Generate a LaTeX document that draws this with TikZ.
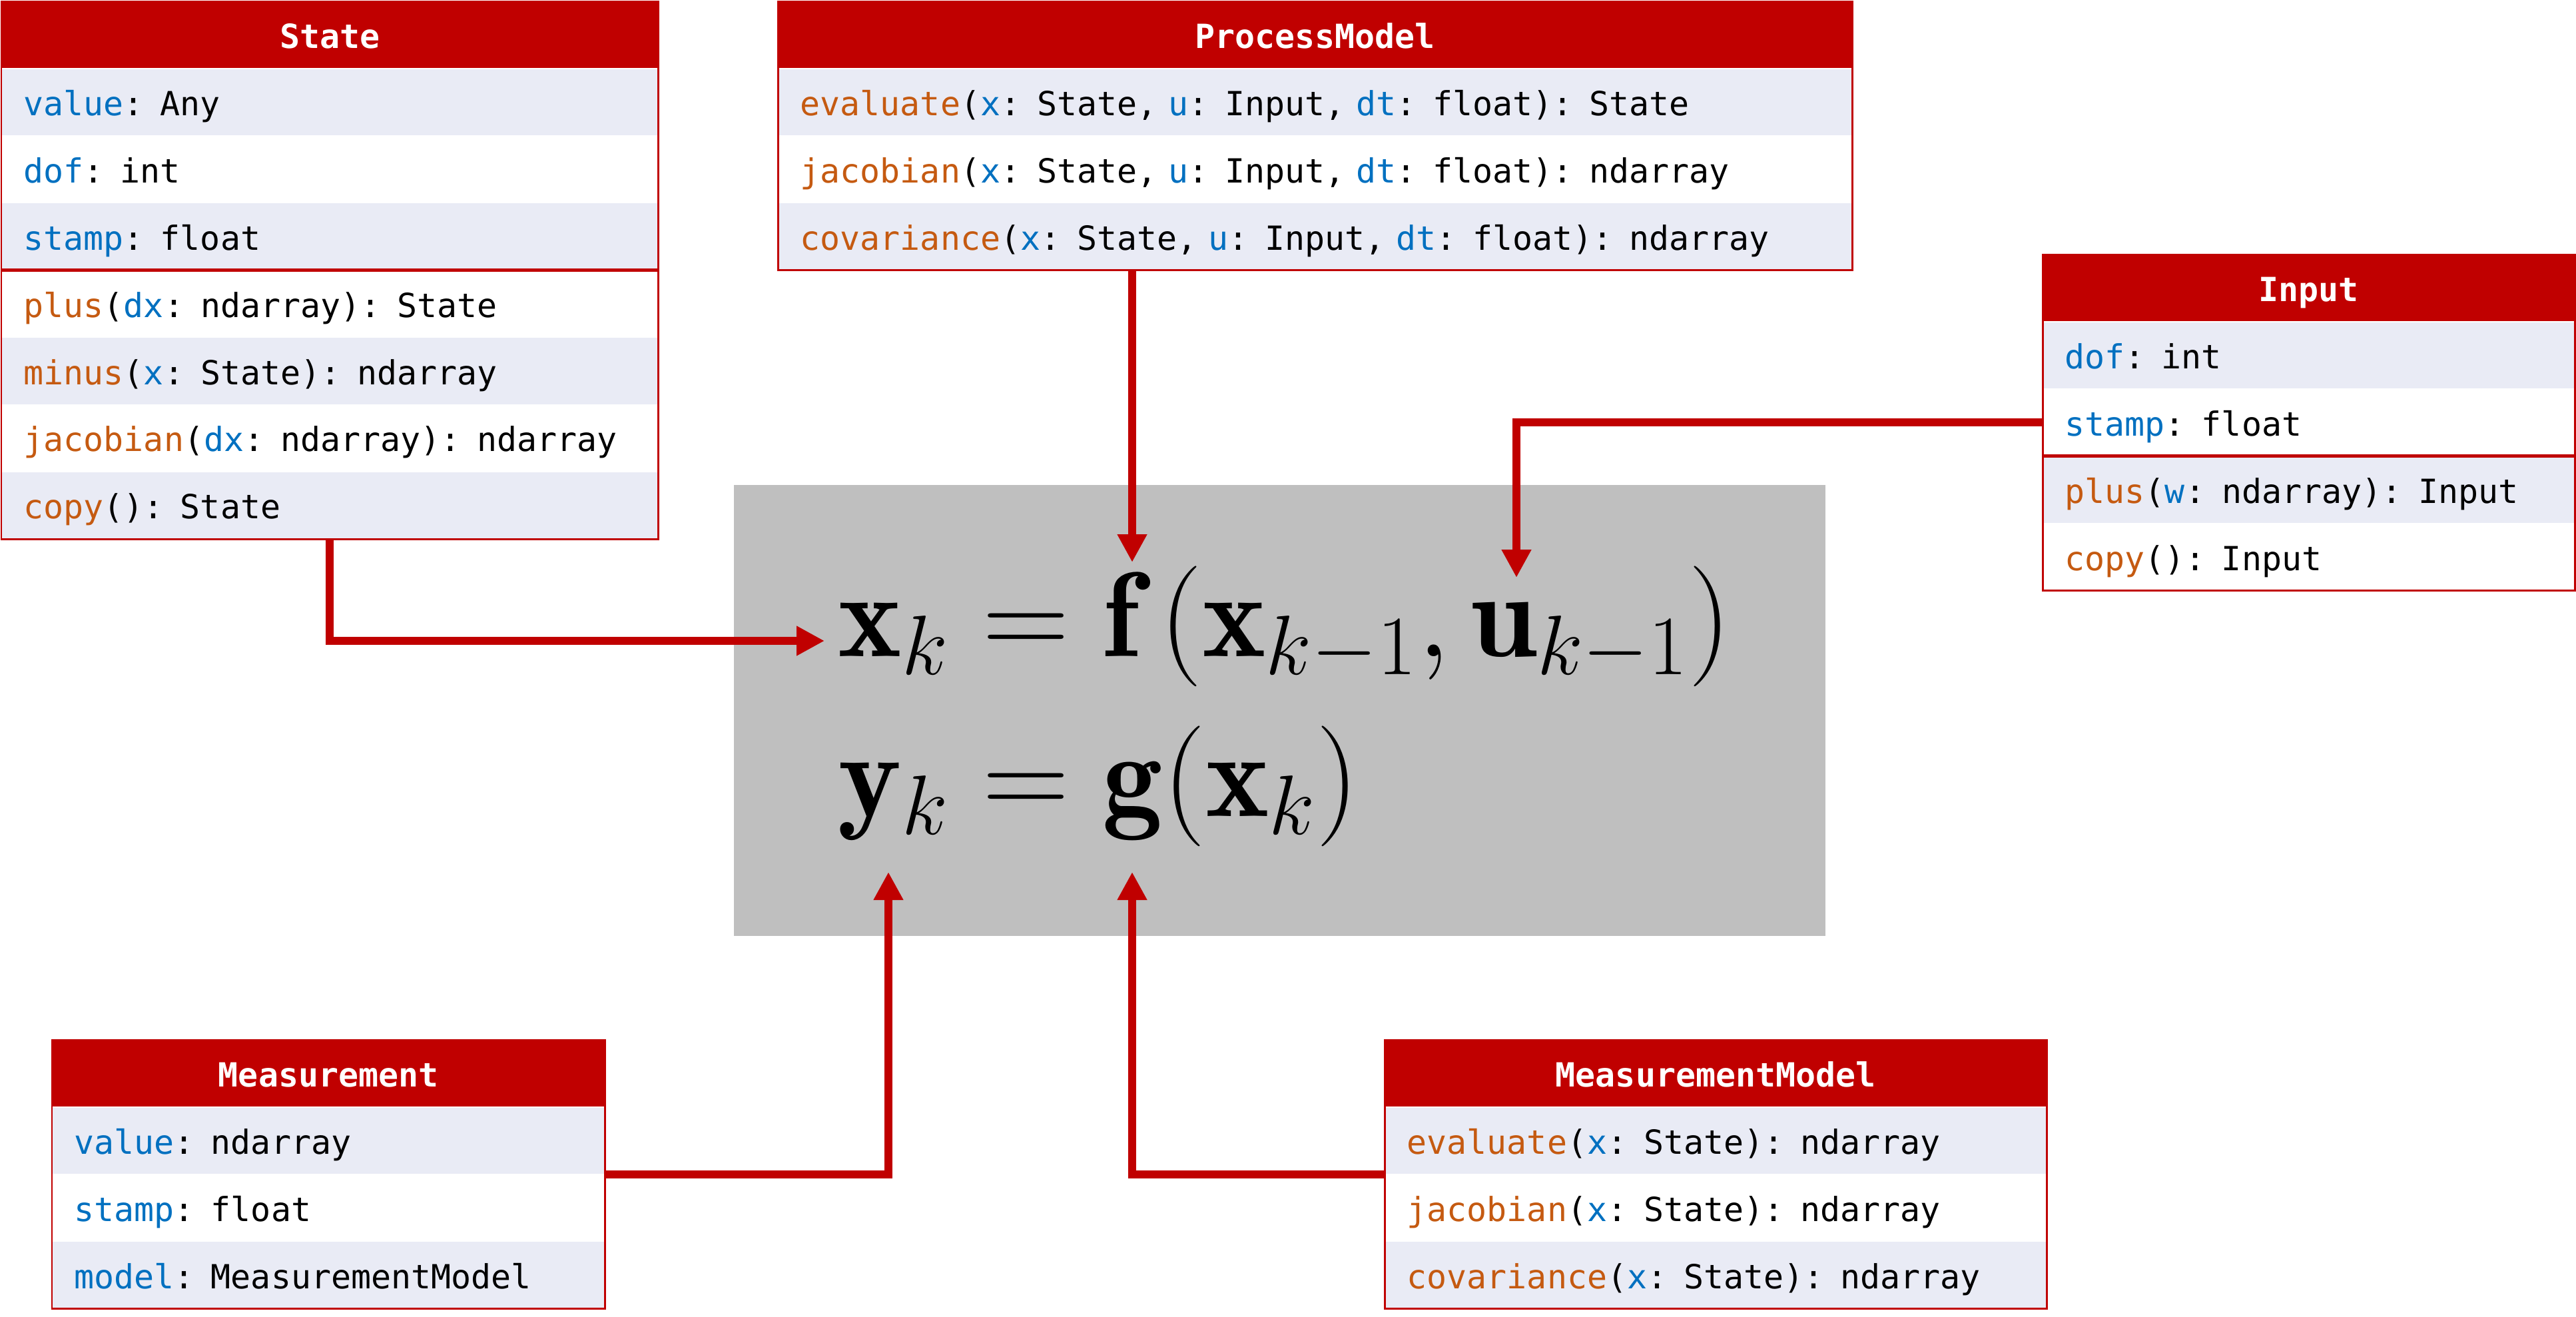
\RequirePackage{fix-cm}
\documentclass[tikz,border=0pt]{standalone}
\usepackage{fontspec}
\setmonofont{DejaVu Sans Mono}
\usetikzlibrary{positioning,arrows.meta}

\definecolor{umred}{RGB}{192,0,0}
\definecolor{rowgray}{RGB}{233,235,245}
\definecolor{fieldblue}{RGB}{0,112,192}
\definecolor{methorange}{RGB}{197,90,17}
\definecolor{eqgray}{RGB}{191,191,191}

\newcommand\codefont{\ttfamily\fontsize{14.2}{17}\selectfont}
\newcommand\fieldname[1]{\textcolor{fieldblue}{#1}}
\newcommand\methname[1]{\textcolor{methorange}{#1}}

\tikzset{
  clshead/.style={fill=umred, text=white, font=\codefont\bfseries, minimum width=#1,
    minimum height=0.995cm, inner sep=0pt, text height=0.5cm, text depth=0.1cm},
  rowplain/.style={text width=#1, inner xsep=0.33cm, inner ysep=0pt, minimum height=0.995cm,
    text height=0.5cm, text depth=0.1cm, font=\codefont, align=left},
  rowshade/.style={fill=rowgray, rowplain=#1},
  frame/.style={draw=umred, line width=0.85pt},
  sepline/.style={draw=umred, line width=1.4pt},
  link/.style={draw=umred, line width=3.4pt, -{Triangle[length=4.2mm,width=4.2mm]}},
  eqtext/.style={inner sep=0pt, anchor=base west, font=\fontsize{51.5}{60}\selectfont},
}

\begin{document}
\begin{tikzpicture}
		%%%%% MODEL %%%%%
		\useasboundingbox (0,0) rectangle (38.68,-19.76);
		
		\fill[eqgray] (11.02,-7.28) rectangle (27.41,-14.05);
		\node[eqtext] (eqf) at (12.58,-9.85) {$\mathbf{x}_k = \mathbf{f}\left(\mathbf{x}_{k-1}, \mathbf{u}_{k-1}\right)$};
		\node[eqtext] (eqg) at (12.58,-12.25) {$\mathbf{y}_k = \mathbf{g}(\mathbf{x}_k)$};
		
		\coordinate (tipx) at (12.38,-9.62);
		\coordinate (tipf) at (17.00,-8.44);
		\coordinate (tipu) at (22.77,-8.67);
		\coordinate (tipy) at (13.34,-13.09);
		\coordinate (tipg) at (17.00,-13.09);
		
		%%%%% STATE %%%%%
		\node[clshead=9.85cm, anchor=north west] (state) at (0.02,-0.02) {State};
		\node[rowshade=9.19cm, below=0pt of state] (state1) {\fieldname{value}: Any};
		\node[rowplain=9.19cm, below=0pt of state1] (state2) {\fieldname{dof}: int};
		\node[rowshade=9.19cm, below=0pt of state2] (state3) {\fieldname{stamp}: float};
		\node[rowplain=9.19cm, below=0pt of state3] (state4) {\methname{plus}(\fieldname{dx}: ndarray): State};
		\node[rowshade=9.19cm, below=0pt of state4] (state5) {\methname{minus}(\fieldname{x}: State): ndarray};
		\node[rowplain=9.19cm, below=0pt of state5] (state6) {\methname{jacobian}(\fieldname{dx}: ndarray): ndarray};
		\node[rowshade=9.19cm, below=0pt of state6] (state7) {\methname{copy}(): State};
		\draw[frame] (state.north west) rectangle (state7.south east);
		\draw[sepline] (state3.south west) -- (state3.south east);
		
		%%%%% PROCESS MODEL %%%%%
		\node[clshead=16.12cm, anchor=north west] (pm) at (11.68,-0.02) {ProcessModel};
		\node[rowshade=15.46cm, below=0pt of pm] (pm1) {\methname{evaluate}(\fieldname{x}: State, \fieldname{u}: Input, \fieldname{dt}: float): State};
		\node[rowplain=15.46cm, below=0pt of pm1] (pm2) {\methname{jacobian}(\fieldname{x}: State, \fieldname{u}: Input, \fieldname{dt}: float): ndarray};
		\node[rowshade=15.46cm, below=0pt of pm2] (pm3) {\methname{covariance}(\fieldname{x}: State, \fieldname{u}: Input, \fieldname{dt}: float): ndarray};
		\draw[frame] (pm.north west) rectangle (pm3.south east);
		
		%%%%% INPUT %%%%%
		\node[clshead=7.98cm, anchor=north west] (inp) at (30.67,-3.82) {Input};
		\node[rowshade=7.32cm, below=0pt of inp] (inp1) {\fieldname{dof}: int};
		\node[rowplain=7.32cm, below=0pt of inp1] (inp2) {\fieldname{stamp}: float};
		\node[rowshade=7.32cm, below=0pt of inp2] (inp3) {\methname{plus}(\fieldname{w}: ndarray): Input};
		\node[rowplain=7.32cm, below=0pt of inp3] (inp4) {\methname{copy}(): Input};
		\draw[frame] (inp.north west) rectangle (inp4.south east);
		\draw[sepline] (inp2.south west) -- (inp2.south east);
		
		%%%%% MEASUREMENT %%%%%
		\node[clshead=8.29cm, anchor=north west] (meas) at (0.78,-15.61) {Measurement};
		\node[rowshade=7.63cm, below=0pt of meas] (meas1) {\fieldname{value}: ndarray};
		\node[rowplain=7.63cm, below=0pt of meas1] (meas2) {\fieldname{stamp}: float};
		\node[rowshade=7.63cm, below=0pt of meas2] (meas3) {\fieldname{model}: MeasurementModel};
		\draw[frame] (meas.north west) rectangle (meas3.south east);
		
		%%%%% MEASUREMENT MODEL %%%%%
		\node[clshead=9.93cm, anchor=north west] (mm) at (20.79,-15.61) {MeasurementModel};
		\node[rowshade=9.27cm, below=0pt of mm] (mm1) {\methname{evaluate}(\fieldname{x}: State): ndarray};
		\node[rowplain=9.27cm, below=0pt of mm1] (mm2) {\methname{jacobian}(\fieldname{x}: State): ndarray};
		\node[rowshade=9.27cm, below=0pt of mm2] (mm3) {\methname{covariance}(\fieldname{x}: State): ndarray};
		\draw[frame] (mm.north west) rectangle (mm3.south east);
		
		%%%%% LINKS %%%%%
		\draw[link] (state7.south) |- (tipx);
		\draw[link] (tipf |- pm3.south) -- (tipf);
		\draw[link] (inp2.west) -| (tipu);
		\draw[link] (meas1.south east) -| (tipy);
		\draw[link] (mm1.south west) -| (tipg);
		
		%%%%% END %%%%%
	\end{tikzpicture}
\end{document}
